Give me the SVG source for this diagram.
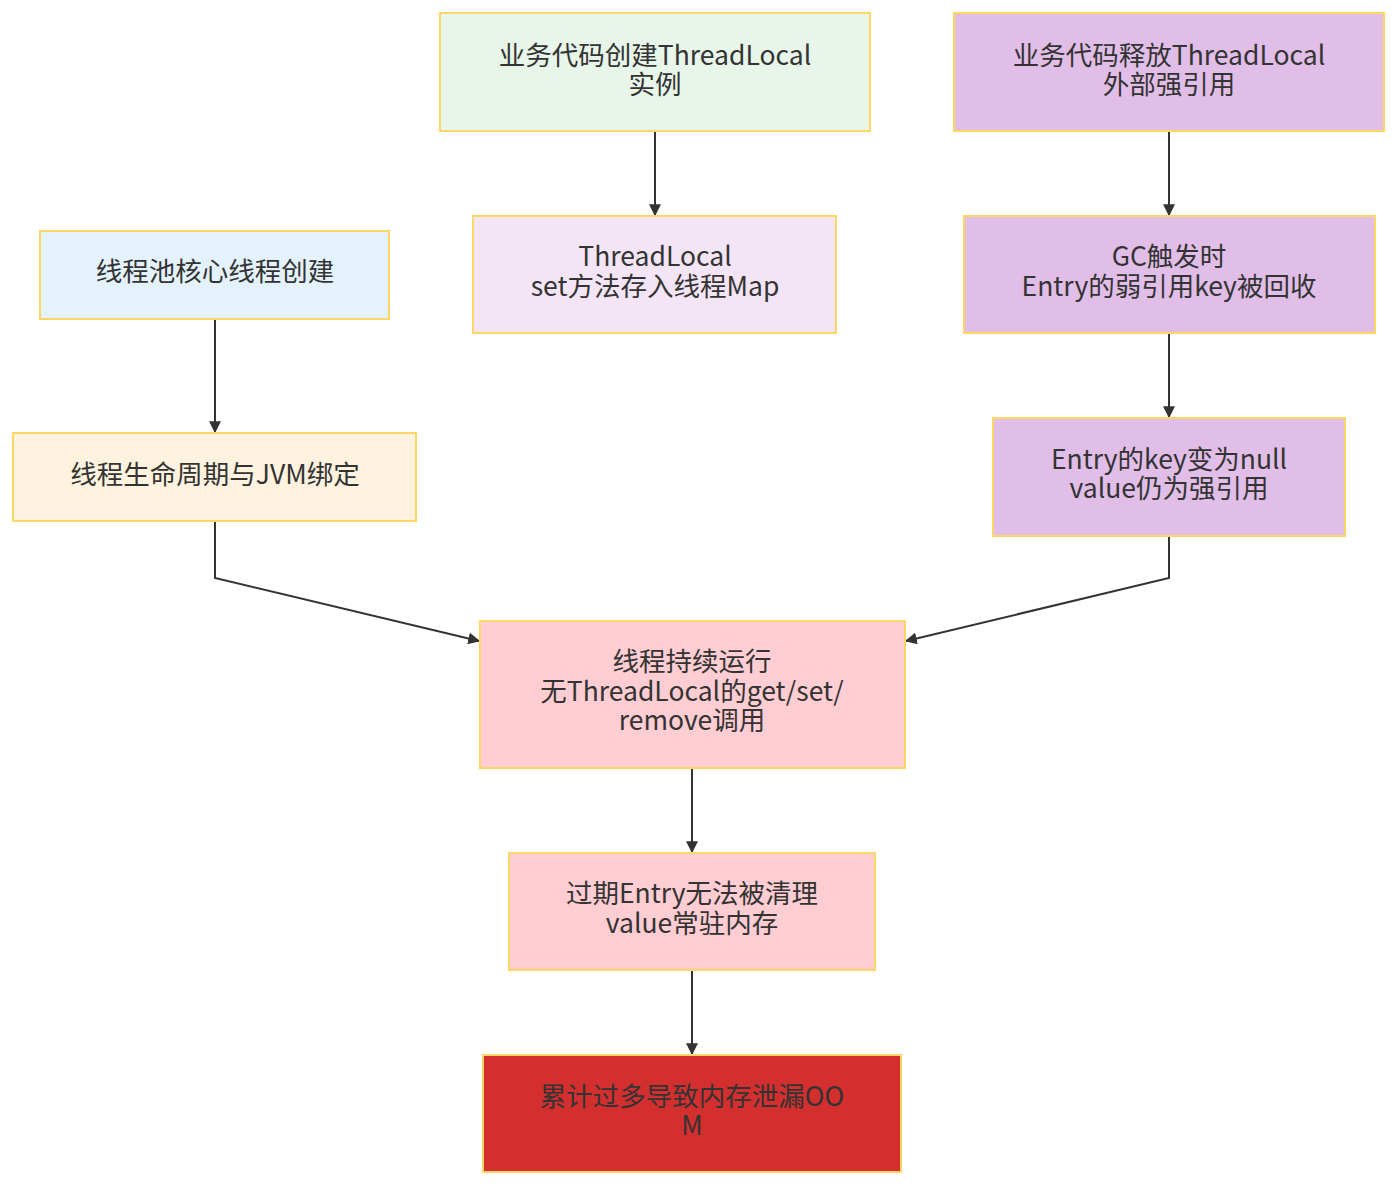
<svg xmlns="http://www.w3.org/2000/svg" width="1400" height="1187" viewBox="0 0 1400 1187">
<style>
.n rect{stroke:#fdd663;stroke-width:2}
.n text{font-family:"Noto Sans CJK SC","Noto Sans",sans-serif;font-size:26.5px;fill:#333;text-anchor:middle}
.e path{fill:none;stroke:#333;stroke-width:2}
</style>
<defs>
<marker id="ah" viewBox="0 0 10 10" refX="9" refY="5" markerWidth="12" markerHeight="12" orient="auto" markerUnits="userSpaceOnUse">
<path d="M0,0 L10,5 L0,10 z" fill="#333"/>
</marker>
</defs>
<rect width="1400" height="1187" fill="#fff"/>
<g class="e">
<path d="M655,132 V215" style="marker-end:url(#ah)"/>
<path d="M1169,132 V215" style="marker-end:url(#ah)"/>
<path d="M1169,334 V417" style="marker-end:url(#ah)"/>
<path d="M215,320 V432" style="marker-end:url(#ah)"/>
<path d="M215,522 V578 L479,641" style="marker-end:url(#ah)"/>
<path d="M1169,537 V578 L906,641" style="marker-end:url(#ah)"/>
<path d="M692,769 V852" style="marker-end:url(#ah)"/>
<path d="M692,971 V1054" style="marker-end:url(#ah)"/>
</g>
<g id="A" class="n"><rect x="440" y="13" width="430" height="118" fill="#e8f5e9"/><text x="655" y="65">业务代码创建ThreadLocal</text><text x="655" y="94">实例</text></g>
<g id="B" class="n"><rect x="473" y="216" width="363" height="117" fill="#f3e5f5"/><text x="655" y="266">ThreadLocal</text><text x="655" y="296">set方法存入线程Map</text></g>
<g id="C" class="n"><rect x="954" y="13" width="430" height="118" fill="#e1bee7"/><text x="1169" y="65">业务代码释放ThreadLocal</text><text x="1169" y="94">外部强引用</text></g>
<g id="D" class="n"><rect x="964" y="216" width="411" height="117" fill="#e1bee7"/><text x="1169" y="266">GC触发时</text><text x="1169" y="296">Entry的弱引用key被回收</text></g>
<g id="E" class="n"><rect x="993" y="418" width="352" height="118" fill="#e1bee7"/><text x="1169" y="469">Entry的key变为null</text><text x="1169" y="498">value仍为强引用</text></g>
<g id="F" class="n"><rect x="40" y="231" width="349" height="88" fill="#e3f2fd"/><text x="215" y="281">线程池核心线程创建</text></g>
<g id="G" class="n"><rect x="13" y="433" width="403" height="88" fill="#fff3e0"/><text x="215" y="484">线程生命周期与JVM绑定</text></g>
<g id="H" class="n"><rect x="480" y="621" width="425" height="147" fill="#ffcdd2"/><text x="692" y="671">线程持续运行</text><text x="692" y="701">无ThreadLocal的get/set/</text><text x="692" y="730">remove调用</text></g>
<g id="I" class="n"><rect x="509" y="853" width="366" height="117" fill="#ffcdd2"/><text x="692" y="903">过期Entry无法被清理</text><text x="692" y="933">value常驻内存</text></g>
<g id="J" class="n"><rect x="483" y="1055" width="418" height="117" fill="#d32f2f"/><text x="692" y="1106">累计过多导致内存泄漏OO</text><text x="692" y="1135">M</text></g>
</svg>
